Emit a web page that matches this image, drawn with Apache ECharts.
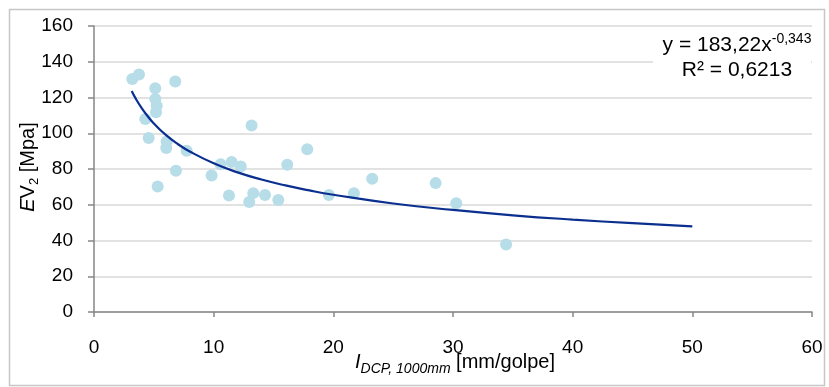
<!DOCTYPE html>
<html><head><meta charset="utf-8">
<script src="https://cdn.jsdelivr.net/npm/echarts@6/dist/echarts.min.js"></script>
<style>html,body{margin:0;padding:0;background:#fff}#c{width:829px;height:387px}</style>
</head><body><div id="c"></div>
<script>
// measured points: I_DCP,1000mm [mm/golpe] vs EV2 [Mpa]
const idcp = [3.20, 3.76, 5.12, 6.79, 5.12, 5.24, 5.18, 4.29, 4.57, 6.07, 6.04, 7.74, 6.85, 5.32, 9.83, 10.58,
              11.50, 12.26, 11.28, 13.31, 12.97, 14.29, 15.40, 16.15, 17.82, 13.17, 19.63, 21.72, 23.25, 28.55, 30.27, 34.44];
const ev2  = [130.4, 132.9, 125.2, 128.9, 119.2, 115.4, 111.7, 108.0, 97.3, 95.4, 91.7, 90.2, 79.0, 70.2, 76.4, 82.6,
              83.9, 81.4, 65.2, 66.5, 61.5, 65.4, 62.6, 82.4, 91.1, 104.4, 65.5, 66.5, 74.5, 72.1, 60.9, 37.7];
// power trend line (y = 183,22x^-0,343)
const trendX = [3.15, 3.5, 4, 4.5, 5, 6, 7, 8, 10, 12, 14, 16, 18, 20, 25, 30, 35, 40, 45, 50];
const trendY = [123.6, 119.2, 113.9, 109.4, 105.5, 99.1, 94.0, 89.8, 83.2, 78.1, 74.1, 70.8, 68.0, 65.6, 60.7, 57.1, 54.1, 51.7, 49.7, 47.9];
const xTicks = {min: 0, max: 60, interval: 10};
const yTicks = {min: 0, max: 160, interval: 20};
const eqLine1 = ['y = 183,22x', '-0,343'];
const eqLine2 = 'R² = 0,6213';

const FONT = 'Liberation Sans, Arial, sans-serif';
const chart = echarts.init(document.getElementById('c'), null, {renderer: 'canvas'});
const scatterData = idcp.map((x, i) => [x, ev2[i]]);
const trendData = trendX.map((x, i) => [x, trendY[i]]);

chart.setOption({
  animation: false,
  backgroundColor: '#fff',
  grid: {left: 94, right: 17, top: 26, bottom: 75, containLabel: false},
  xAxis: {
    type: 'value', min: xTicks.min, max: xTicks.max, interval: xTicks.interval,
    axisLine: {show: true, lineStyle: {color: '#868686', width: 1.5}},
    axisTick: {show: true, length: 5, lineStyle: {color: '#868686', width: 1.5}},
    splitLine: {show: false},
    axisLabel: {fontSize: 19, color: '#000', fontFamily: FONT, margin: 26}
  },
  yAxis: {
    type: 'value', min: yTicks.min, max: yTicks.max, interval: yTicks.interval,
    axisLine: {show: true, lineStyle: {color: '#868686', width: 1.5}},
    axisTick: {show: true, length: 6, lineStyle: {color: '#868686', width: 1.5}},
    splitLine: {show: true, lineStyle: {color: '#d9d9d9', width: 1.5}},
    axisLabel: {fontSize: 19, color: '#000', fontFamily: FONT, margin: 21}
  },
  series: [
    {type: 'scatter', data: scatterData, symbol: 'circle', symbolSize: 12,
     itemStyle: {color: '#b7dde8', opacity: 1}, z: 2},
    {type: 'line', data: trendData, smooth: true, showSymbol: false, symbol: 'none',
     lineStyle: {color: '#0a2f8f', width: 2.2}, z: 3}
  ],
  graphic: [
    {type: 'rect', left: 7, top: 7, shape: {x: 0, y: 0, width: 815, height: 376},
     style: {fill: 'none', stroke: '#c6c6c6', lineWidth: 1.5}, silent: true},
    {type: 'rect', x: 653, y: 31, shape: {x: 0, y: 0, width: 158, height: 57},
     style: {fill: '#fff'}, z: 50},
    {type: 'text', x: 737, y: 45, z: 60,
     style: {text: '{n|' + eqLine1[0] + '}{sup|' + eqLine1[1] + '}', align: 'center', verticalAlign: 'middle',
       rich: {n: {fontSize: 21, fontFamily: FONT, fill: '#000', lineHeight: 26, verticalAlign: 'middle'},
              sup: {fontSize: 14, fontFamily: FONT, fill: '#000', lineHeight: 26, verticalAlign: 'top'}}}},
    {type: 'text', x: 737, y: 70, z: 60,
     style: {text: eqLine2, align: 'center', verticalAlign: 'middle', fontSize: 21, fontFamily: FONT, fill: '#000'}},
    {type: 'text', x: 455, y: 362, z: 60,
     style: {text: '{i|I}{s|DCP, 1000mm}{n| [mm/golpe]}', align: 'center', verticalAlign: 'middle',
       rich: {i: {fontSize: 20, fontStyle: 'italic', fontFamily: FONT, fill: '#000', lineHeight: 28, verticalAlign: 'middle'},
              s: {fontSize: 14, fontStyle: 'italic', fontFamily: FONT, fill: '#000', lineHeight: 28, verticalAlign: 'bottom'},
              n: {fontSize: 20, fontFamily: FONT, fill: '#000', lineHeight: 28, verticalAlign: 'middle'}}}},
    {type: 'text', x: 28, y: 167, rotation: Math.PI / 2, z: 60,
     style: {text: '{i|E}{n|V}{s|2}{n| [Mpa]}', align: 'center', verticalAlign: 'middle',
       rich: {i: {fontSize: 20, fontStyle: 'italic', fontFamily: FONT, fill: '#000', lineHeight: 26, verticalAlign: 'middle'},
              s: {fontSize: 13, fontFamily: FONT, fill: '#000', lineHeight: 26, verticalAlign: 'bottom'},
              n: {fontSize: 20, fontFamily: FONT, fill: '#000', lineHeight: 26, verticalAlign: 'middle'}}}}
  ]
});
</script></body></html>
